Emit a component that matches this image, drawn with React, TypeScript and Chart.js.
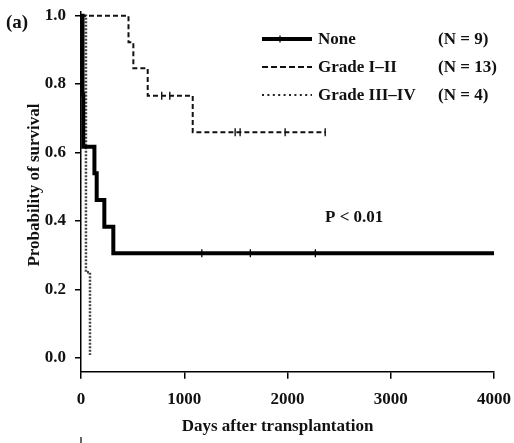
import React, { useEffect, useRef } from "react";
import { Chart, registerables } from "chart.js";
Chart.register(...registerables);

// ---- data ----
const xTickValues = [0, 1000, 2000, 3000, 4000];
const yTickValues = [0, 0.2, 0.4, 0.6, 0.8, 1.0];

const noneDays = [0, 15, 22, 130, 152, 226, 313, 4000];
const noneSurvival = [1.0, 0.77, 0.617, 0.539, 0.461, 0.383, 0.305, 0.305];
const noneCensorDays = [1170, 1640, 2270];
const noneCensorSurvival = [0.305, 0.305, 0.305];

const gradeIIDays = [0, 460, 507, 646, 1082, 2370];
const gradeIISurvival = [1.0, 0.922, 0.846, 0.766, 0.659, 0.659];
const gradeIICensorDays = [782, 860, 1493, 1541, 1977, 2365];
const gradeIICensorSurvival = [0.766, 0.766, 0.659, 0.659, 0.659, 0.659];

const gradeIVDays = [0, 48, 87];
const gradeIVSurvival = [1.0, 0.25, 0.008];

const legendLabels = ["None", "Grade I\u2013II", "Grade III\u2013IV"];
const legendCounts = ["(N = 9)", "(N = 13)", "(N = 4)"];
const panelLabel = "(a)";
const pValueText = "P < 0.01";
const xTitle = "Days after transplantation";
const yTitle = "Probability of survival";

const FONT = "'Liberation Serif', 'Times New Roman', serif";

const pts = (xs: number[], ys: number[]) => xs.map((x, i) => ({ x, y: ys[i] }));

const overlay = {
  id: "overlay",
  afterDraw(chart: any) {
    const ctx = chart.ctx as CanvasRenderingContext2D;
    ctx.save();
    ctx.fillStyle = "#111";
    ctx.textBaseline = "middle";
    // panel label
    ctx.font = `bold 19px ${FONT}`;
    ctx.textAlign = "left";
    ctx.fillText(panelLabel, 6, 23);
    // p value
    ctx.font = `bold 17px ${FONT}`;
    ctx.fillText(pValueText, 325, 218);
    // legend
    const rows = [39, 67, 95];
    const styles = [
      { w: 4, dash: [] as number[], color: "#000" },
      { w: 2, dash: [6, 3], color: "#111" },
      { w: 2, dash: [2, 3.4], color: "#222" },
    ];
    rows.forEach((y, i) => {
      ctx.save();
      ctx.strokeStyle = styles[i].color;
      ctx.lineWidth = styles[i].w;
      ctx.setLineDash(styles[i].dash);
      ctx.beginPath();
      ctx.moveTo(262, y);
      ctx.lineTo(312, y);
      ctx.stroke();
      if (i === 0) {
        ctx.lineWidth = 1.3;
        ctx.beginPath();
        ctx.moveTo(280, y - 3.5);
        ctx.lineTo(280, y + 3.5);
        ctx.stroke();
      }
      ctx.restore();
      ctx.fillText(legendLabels[i], 318, y + 0.5);
      ctx.fillText(legendCounts[i], 438, y + 0.5);
    });
    // axis titles
    ctx.textAlign = "center";
    ctx.fillText(xTitle, 277.5, 427);
    ctx.save();
    ctx.translate(35, 185);
    ctx.rotate(-Math.PI / 2);
    ctx.fillText(yTitle, 0, 0);
    ctx.restore();
    // stray mark at bottom
    ctx.strokeStyle = "#000";
    ctx.lineWidth = 1.2;
    ctx.beginPath();
    ctx.moveTo(81, 437);
    ctx.lineTo(81, 443);
    ctx.stroke();
    ctx.restore();
  },
};

export default function App() {
  const ref = useRef<HTMLCanvasElement>(null);
  useEffect(() => {
    document.body.style.margin = "0";
    const canvas = ref.current!;
    const tickFont = { family: FONT, size: 17, weight: "bold" as const };
    const censorStyle = {
      showLine: false,
      pointStyle: "line" as const,
      rotation: 90,
      pointRadius: 4,
      pointBorderWidth: 1.3,
      pointBorderColor: "#000",
      pointBackgroundColor: "#000",
    };
    const chart = new Chart(canvas, {
      type: "line",
      data: {
        datasets: [
          {
            data: pts(noneDays, noneSurvival),
            borderColor: "#000",
            borderWidth: 4,
            stepped: true,
            pointRadius: 0,
            fill: false,
          },
          {
            data: pts(gradeIIDays, gradeIISurvival),
            borderColor: "#111",
            borderWidth: 2,
            borderDash: [5, 3],
            stepped: true,
            pointRadius: 0,
            fill: false,
          },
          {
            data: pts(gradeIVDays, gradeIVSurvival),
            borderColor: "#444",
            borderWidth: 2.5,
            borderDash: [2, 1.5],
            stepped: true,
            pointRadius: 0,
            fill: false,
          },
          { data: pts(noneCensorDays, noneCensorSurvival), ...censorStyle },
          { data: pts(gradeIICensorDays, gradeIICensorSurvival), ...censorStyle },
        ] as any,
      },
      options: {
        responsive: false,
        devicePixelRatio: 1,
        animation: false,
        layout: { padding: { top: 12, right: 20, bottom: 0, left: 0 } },
        plugins: {
          legend: { display: false },
          tooltip: { enabled: false },
        },
        scales: {
          x: {
            type: "linear",
            min: 0,
            max: 4000,
            afterBuildTicks: (s: any) => {
              s.ticks = xTickValues.map((v) => ({ value: v }));
            },
            ticks: {
              font: tickFont,
              color: "#111",
              padding: 11,
              maxRotation: 0,
              autoSkip: false,
              callback: (v: any) => String(v),
            },
            grid: {
              drawOnChartArea: false,
              drawTicks: true,
              tickLength: 7,
              color: "#000",
              lineWidth: 1.5,
            },
            border: { color: "#000", width: 1.5 },
            afterFit: (s: any) => {
              s.height = 71.3;
              s.paddingLeft = 0;
              s.paddingRight = 0;
            },
          },
          y: {
            type: "linear",
            min: -0.041,
            max: 1.0108,
            afterBuildTicks: (s: any) => {
              s.ticks = yTickValues.map((v) => ({ value: v }));
            },
            ticks: {
              font: tickFont,
              color: "#111",
              padding: 9,
              autoSkip: false,
              callback: (v: any) => Number(v).toFixed(1),
            },
            grid: {
              drawOnChartArea: false,
              drawTicks: true,
              tickLength: 6,
              color: "#000",
              lineWidth: 1.5,
            },
            border: { color: "#000", width: 1.5 },
            afterFit: (s: any) => {
              s.width = 81;
              s.paddingTop = 0;
              s.paddingBottom = 0;
            },
          },
        },
      } as any,
      plugins: [overlay],
    });
    return () => chart.destroy();
  }, []);
  return (
    <div style={{ position: "absolute", left: 0, top: 0, width: 514, height: 443, background: "#fff" }}>
      <canvas ref={ref} width={514} height={443} style={{ display: "block", width: 514, height: 443 }} />
    </div>
  );
}
